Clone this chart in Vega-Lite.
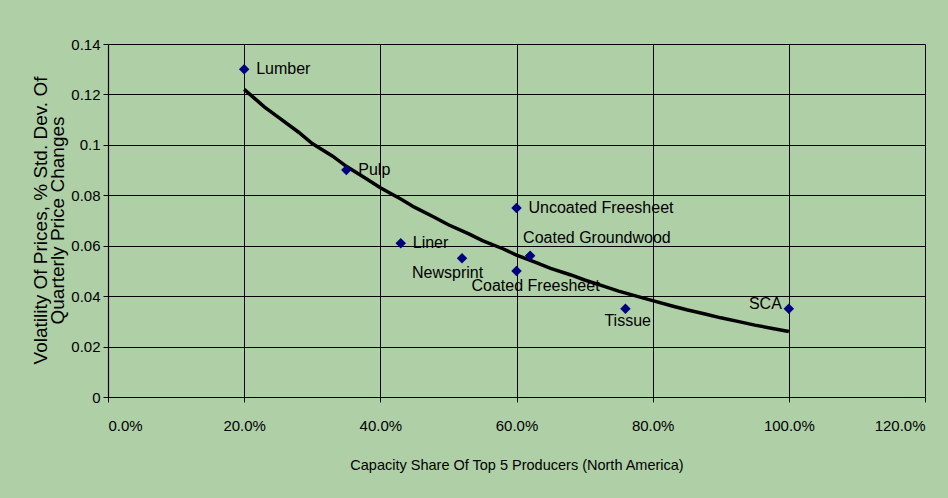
{
  "$schema": "https://vega.github.io/schema/vega-lite/v6.json",
  "width": 817,
  "height": 353,
  "autosize": "none",
  "padding": {"left": 108, "top": 44, "right": 23, "bottom": 101},
  "background": "#AFD0A7",
  "config": {
    "view": {"stroke": null},
    "font": "Liberation Sans",
    "axis": {
      "labelFont": "Liberation Sans",
      "titleFont": "Liberation Sans",
      "labelColor": "#000000",
      "titleColor": "#000000",
      "labelFontSize": 15,
      "titleFontSize": 15,
      "titleFontWeight": "normal",
      "domainColor": "#000000",
      "tickColor": "#000000",
      "gridColor": "#000000",
      "gridOpacity": 1,
      "gridWidth": 1,
      "domainWidth": 1.2,
      "tickSize": 5
    }
  },
  "datasets": {
    "points": [
      {"product": "Lumber", "share": 0.20, "volatility": 0.130, "placement": "right"},
      {"product": "Pulp", "share": 0.35, "volatility": 0.090, "placement": "right"},
      {"product": "Liner", "share": 0.43, "volatility": 0.061, "placement": "right"},
      {"product": "Newsprint", "share": 0.52, "volatility": 0.055, "placement": "newsprint"},
      {"product": "Uncoated Freesheet", "share": 0.60, "volatility": 0.075, "placement": "right"},
      {"product": "Coated Groundwood", "share": 0.62, "volatility": 0.056, "placement": "above"},
      {"product": "Coated Freesheet", "share": 0.60, "volatility": 0.050, "placement": "below"},
      {"product": "Tissue", "share": 0.76, "volatility": 0.035, "placement": "tissue"},
      {"product": "SCA", "share": 1.00, "volatility": 0.035, "placement": "left"}
    ],
    "trend": [
      {"share": 0.20, "fit": 0.1220},
      {"share": 0.23, "fit": 0.1150},
      {"share": 0.25, "fit": 0.1110},
      {"share": 0.28, "fit": 0.1050},
      {"share": 0.30, "fit": 0.1005},
      {"share": 0.33, "fit": 0.0955},
      {"share": 0.35, "fit": 0.0915},
      {"share": 0.38, "fit": 0.0865},
      {"share": 0.40, "fit": 0.0830},
      {"share": 0.43, "fit": 0.0785},
      {"share": 0.45, "fit": 0.0753},
      {"share": 0.48, "fit": 0.0712},
      {"share": 0.50, "fit": 0.0683},
      {"share": 0.53, "fit": 0.0647},
      {"share": 0.55, "fit": 0.0620},
      {"share": 0.58, "fit": 0.0588},
      {"share": 0.60, "fit": 0.0563},
      {"share": 0.63, "fit": 0.0532},
      {"share": 0.65, "fit": 0.0510},
      {"share": 0.68, "fit": 0.0484},
      {"share": 0.70, "fit": 0.0464},
      {"share": 0.73, "fit": 0.0438},
      {"share": 0.75, "fit": 0.0420},
      {"share": 0.78, "fit": 0.0397},
      {"share": 0.80, "fit": 0.0382},
      {"share": 0.83, "fit": 0.0360},
      {"share": 0.85, "fit": 0.0346},
      {"share": 0.88, "fit": 0.0327},
      {"share": 0.90, "fit": 0.0314},
      {"share": 0.93, "fit": 0.0297},
      {"share": 0.95, "fit": 0.0285},
      {"share": 0.98, "fit": 0.0270},
      {"share": 1.00, "fit": 0.0260}
    ]
  },
  "encoding": {
    "x": {
      "field": "share",
      "type": "quantitative",
      "scale": {"domain": [0, 1.2], "nice": false, "zero": true},
      "axis": {
        "values": [0, 0.2, 0.4, 0.6, 0.8, 1.0, 1.2],
        "format": ".1%",
        "grid": true,
        "labelPadding": 16,
        "title": "Capacity Share Of Top 5 Producers (North America)",
        "titleFontSize": 14.5,
        "titleY": 68,
        "titleBaseline": "middle"
      }
    },
    "y": {
      "field": "volatility",
      "type": "quantitative",
      "scale": {"domain": [0, 0.14], "nice": false},
      "axis": {
        "values": [0, 0.02, 0.04, 0.06, 0.08, 0.1, 0.12, 0.14],
        "labelExpr": "datum.value + ''",
        "grid": true,
        "labelPadding": 3,
        "title": ["Volatility Of Prices, % Std. Dev. Of", "Quarterly Price Changes"],
        "titleFontSize": 19,
        "titleX": -68,
        "titleY": 176,
        "titleAlign": "center",
        "titleBaseline": "middle",
        "titleAngle": -90,
        "titleLineHeight": 17
      }
    }
  },
  "layer": [
    {
      "data": {"name": "trend"},
      "mark": {"type": "line", "color": "#000000", "strokeWidth": 3.5},
      "encoding": {"y": {"field": "fit", "type": "quantitative"}}
    },
    {
      "data": {"name": "points"},
      "mark": {"type": "point", "shape": "diamond", "filled": true, "color": "#000080", "size": 110, "opacity": 1}
    },
    {
      "data": {"name": "points"},
      "transform": [{"filter": "datum.placement == 'right'"}],
      "mark": {"type": "text", "align": "left", "baseline": "middle", "dx": 12, "fontSize": 16, "color": "#000000"},
      "encoding": {"text": {"field": "product"}}
    },
    {
      "data": {"name": "points"},
      "transform": [{"filter": "datum.placement == 'above'"}],
      "mark": {"type": "text", "align": "left", "baseline": "middle", "dx": -7, "dy": -18, "fontSize": 16, "color": "#000000"},
      "encoding": {"text": {"field": "product"}}
    },
    {
      "data": {"name": "points"},
      "transform": [{"filter": "datum.placement == 'newsprint'"}],
      "mark": {"type": "text", "align": "left", "baseline": "middle", "dx": -50, "dy": 15, "fontSize": 16, "color": "#000000"},
      "encoding": {"text": {"field": "product"}}
    },
    {
      "data": {"name": "points"},
      "transform": [{"filter": "datum.placement == 'below'"}],
      "mark": {"type": "text", "align": "left", "baseline": "middle", "dx": -45, "dy": 15, "fontSize": 16, "color": "#000000"},
      "encoding": {"text": {"field": "product"}}
    },
    {
      "data": {"name": "points"},
      "transform": [{"filter": "datum.placement == 'tissue'"}],
      "mark": {"type": "text", "align": "left", "baseline": "middle", "dx": -21, "dy": 12, "fontSize": 16, "color": "#000000"},
      "encoding": {"text": {"field": "product"}}
    },
    {
      "data": {"name": "points"},
      "transform": [{"filter": "datum.placement == 'left'"}],
      "mark": {"type": "text", "align": "right", "baseline": "middle", "dx": -7, "dy": -5, "fontSize": 16, "color": "#000000"},
      "encoding": {"text": {"field": "product"}}
    },
    {
      "mark": {"type": "text", "align": "center", "baseline": "middle", "fontSize": 14, "color": "#000000"},
      "encoding": {
        "x": {"datum": 0.12, "type": "quantitative"},
        "y": {"datum": 0.089, "type": "quantitative"},
        "text": {"value": "R² = 0.8712"}
      }
    }
  ]
}
